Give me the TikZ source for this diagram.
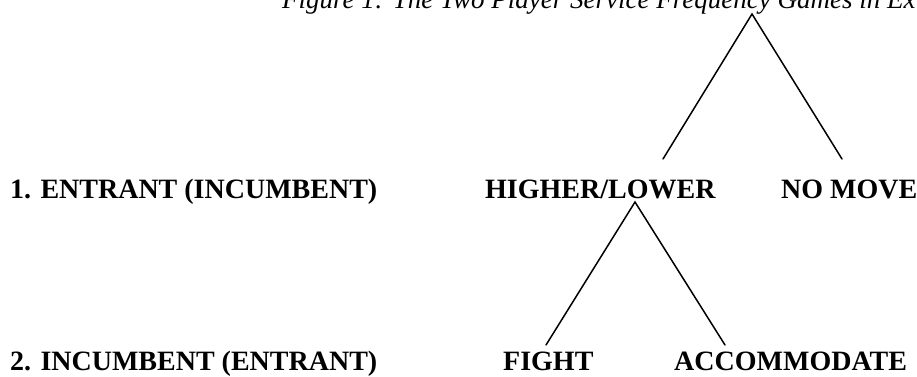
\documentclass[tikz,border=0pt]{standalone}
\usepackage{fontspec}
\setmainfont{Liberation Serif}
\begin{document}
\begin{tikzpicture}[x=1pt,y=1pt,
  lbl/.style={anchor=base west,inner sep=0pt,font=\fontsize{28}{30}\selectfont\bfseries},
  ttl/.style={anchor=base west,inner sep=0pt,font=\fontsize{27}{29}\selectfont\itshape},
  branch/.style={line width=1.5pt,line cap=round}]
\useasboundingbox (0,0) rectangle (917,376);
% title (cut by the page edges, as in the reference)
\node[ttl] (title) at (282,367) {Figure 1: The Two Player Service Frequency Games in Ex};
% row labels
\node[lbl] (p1) at (10,178) {1. ENTRANT (INCUMBENT)};
\node[lbl] (p2) at (10,6) {2. INCUMBENT (ENTRANT)};
% moves
\node[lbl] (hl) at (485,178) {HIGHER/LOWER};
\node[lbl] (nm) at (781,178) {NO MOVE};
\node[lbl] (fi) at (503,6) {FIGHT};
\node[lbl] (ac) at (674,6) {ACCOMMODATE};
% tree vertices
\coordinate (r) at (752,362);
\coordinate (rl) at (663,217);
\coordinate (rr) at (842,217);
\coordinate (s) at (635,174);
\coordinate (sl) at (546,31);
\coordinate (sr) at (725,31);
\draw[branch] (rl) -- (r) -- (rr);
\draw[branch] (sl) -- (s) -- (sr);
\end{tikzpicture}
\end{document}
